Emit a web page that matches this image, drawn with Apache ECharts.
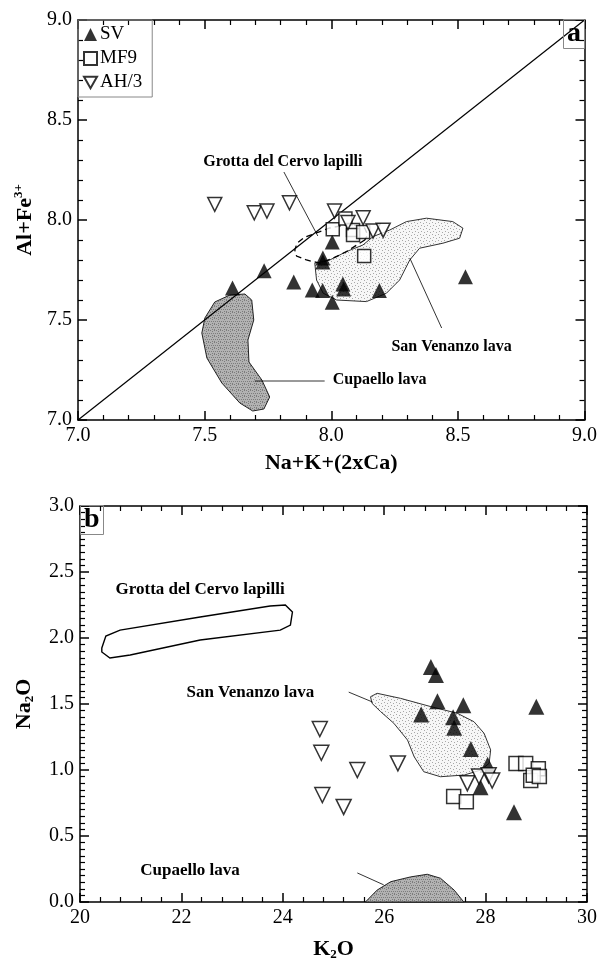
<!DOCTYPE html>
<html>
<head>
<meta charset="utf-8">
<script src="https://cdn.jsdelivr.net/npm/echarts@6/dist/echarts.min.js"></script>
<style>
  html, body { margin: 0; padding: 0; background: #fff; }
  #main { width: 600px; height: 962px; }
</style>
</head>
<body>
<div id="main"></div>
<script>
const serif = 'Liberation Serif'

// ---- panel a : Al+Fe3+ vs Na+K+(2xCa)
const svA = [[7.61, 7.66], [7.735, 7.746], [7.852, 7.69], [7.925, 7.65], [7.966, 7.647], [8.004, 7.589],
  [8.046, 7.68], [8.049, 7.655], [7.967, 7.81], [7.967, 7.79], [8.004, 7.89], [8.19, 7.647], [8.53, 7.716]]
const mf9A = [[8.006, 7.954], [8.056, 8.008], [8.086, 7.95], [8.086, 7.925], [8.126, 7.94], [8.13, 7.82]]
const ah3A = [[7.54, 8.078], [7.696, 8.036], [7.746, 8.045], [7.835, 8.086], [8.013, 8.045], [8.066, 7.987],
  [8.126, 8.011], [8.165, 7.945], [8.205, 7.949]]
const oneToOne = [[7, 7], [9, 9]]
const cupaelloA = [[7.501, 7.51], [7.54, 7.59], [7.6, 7.625], [7.659, 7.63], [7.686, 7.6], [7.694, 7.5],
  [7.671, 7.4], [7.675, 7.29], [7.726, 7.2], [7.757, 7.115], [7.734, 7.055], [7.69, 7.045], [7.639, 7.085],
  [7.568, 7.185], [7.509, 7.31], [7.489, 7.435]]
const venanzoA = [[7.935, 7.784], [7.942, 7.7], [7.968, 7.634], [8.021, 7.6], [8.139, 7.592], [8.218, 7.634],
  [8.27, 7.7], [8.31, 7.8], [8.349, 7.859], [8.441, 7.884], [8.507, 7.909], [8.52, 7.959], [8.48, 7.992],
  [8.376, 8.009], [8.297, 7.992], [8.231, 7.95], [8.165, 7.917], [8.125, 7.875], [8.06, 7.842], [7.994, 7.8]]
const cervoA = [[8.132, 7.9], [8.06, 7.842], [8.007, 7.809], [7.955, 7.784], [7.902, 7.8], [7.863, 7.82],
  [7.856, 7.85], [7.865, 7.884], [7.895, 7.914], [7.994, 7.96], [8.073, 7.98], [8.132, 7.96], [8.144, 7.925]]
const notesA = [
  {text: 'Grotta del Cervo lapilli', at: [7.809, 8.29], from: [7.813, 8.24], to: [7.947, 7.92]},
  {text: 'San Venanzo lava', at: [8.475, 7.365], from: [8.31, 7.81], to: [8.436, 7.46]},
  {text: 'Cupaello lava', at: [8.006, 7.2], from: [7.698, 7.195], to: [7.974, 7.195], align: 'left'}
]

// ---- panel b : Na2O vs K2O
const svB = [[26.92, 1.78], [27.02, 1.72], [27.05, 1.52], [27.56, 1.49], [26.73, 1.42], [27.36, 1.4],
  [27.38, 1.32], [27.71, 1.16], [28.04, 1.04], [27.9, 0.87], [28.56, 0.68], [29.0, 1.48]]
const mf9B = [[27.37, 0.8], [27.62, 0.76], [28.6, 1.05], [28.79, 1.05], [29.04, 1.01], [28.89, 0.92],
  [28.94, 0.96], [29.06, 0.95]]
const ah3B = [[24.73, 1.31], [24.76, 1.13], [24.78, 0.81], [25.2, 0.72], [25.47, 1.0], [26.27, 1.05],
  [27.64, 0.9], [27.87, 0.95], [28.06, 0.96], [28.13, 0.92]]
const venanzoB = [[25.73, 1.555], [25.86, 1.581], [26.32, 1.543], [26.92, 1.48], [27.44, 1.43], [27.77, 1.366],
  [27.97, 1.278], [28.1, 1.152], [28.07, 1.051], [27.91, 1.0], [27.58, 0.962], [27.11, 0.949], [26.78, 0.987],
  [26.59, 1.101], [26.46, 1.227], [26.19, 1.354], [25.93, 1.442], [25.76, 1.505]]
const cervoB = [[20.43, 1.924], [20.51, 2.015], [20.79, 2.06], [22.37, 2.159], [23.75, 2.242], [24.05, 2.25],
  [24.19, 2.197], [24.15, 2.098], [23.95, 2.06], [22.37, 1.985], [20.99, 1.871], [20.59, 1.848], [20.43, 1.894]]
const cupaelloB = [[25.63, 0], [25.86, 0.09], [26.13, 0.154], [26.52, 0.19], [26.85, 0.21], [27.11, 0.18],
  [27.38, 0.09], [27.57, 0]]
const notesB = [
  {text: 'Grotta del Cervo lapilli', at: [22.37, 2.364]},
  {text: 'San Venanzo lava', at: [23.36, 1.583], from: [25.3, 1.59], to: [25.77, 1.515]},
  {text: 'Cupaello lava', at: [22.17, 0.235], from: [25.47, 0.22], to: [25.99, 0.13]}
]

const invTriangle = 'path://M0,0 L12,0 L6,10.4 Z'

// axis index: 0 = panel a (bottom / left), 2 = panel b (bottom / left); 1 and 3 are the mirrored frames
const PA = 0
const PB = 2

// stipple textures for the field outlines
const stipple = (bg, dot, cells) => {
  const c = document.createElement('canvas')
  c.width = 6
  c.height = 6
  const ctx = c.getContext('2d')
  ctx.fillStyle = bg
  ctx.fillRect(0, 0, 6, 6)
  ctx.fillStyle = dot
  cells.forEach(p => ctx.fillRect(p[0], p[1], 1, 1))
  return {image: c, repeat: 'repeat'}
}
const lightDots = stipple('#f7f7f7', '#a8a8a8', [[0, 0], [3, 1], [1, 3], [4, 4]])
const darkDots = stipple('#b2b2b2', '#7c7c7c', [[0, 0], [2, 1], [4, 0], [1, 3], [3, 3], [5, 3], [2, 5], [4, 5]])

const makeAxis = (gridIndex, position, min, max, interval, minorSplit, showLabel) => ({
  gridIndex, position, min, max, interval, type: 'value',
  axisLine: {show: true, onZero: false, lineStyle: {color: '#000', width: 1.5}},
  axisTick: {show: true, inside: true, length: 9, lineStyle: {color: '#000', width: 1.5}},
  minorTick: {show: true, splitNumber: minorSplit, length: 5, lineStyle: {color: '#000', width: 1.2}},
  splitLine: {show: false},
  axisLabel: {
    show: showLabel, color: '#000', fontFamily: serif, fontSize: 20, margin: 6,
    formatter: v => (interval < 1 ? v.toFixed(1) : String(v))
  }
})

const nameRich = {
  t: {fontFamily: serif, fontWeight: 'bold', fontSize: 22, color: '#000'},
  sup: {fontFamily: serif, fontWeight: 'bold', fontSize: 13, color: '#000', verticalAlign: 'top', padding: [0, 0, 12, 0]},
  sub: {fontFamily: serif, fontWeight: 'bold', fontSize: 13, color: '#000', verticalAlign: 'bottom', padding: [10, 0, 0, 0]}
}

const polygonSeries = (axis, pts, style, z) => ({
  type: 'custom', xAxisIndex: axis, yAxisIndex: axis, silent: true, z,
  data: [pts[0]],
  renderItem: (params, api) => ({
    type: 'polygon',
    shape: {points: pts.map(p => api.coord(p))},
    style
  })
})

const noteSeries = (axis, notes, fontSize) => ({
  type: 'custom', xAxisIndex: axis, yAxisIndex: axis, silent: true, z: 6,
  data: notes.map(n => n.at),
  renderItem: (params, api) => {
    const n = notes[params.dataIndex]
    const children = []
    if (n.from) {
      const a = api.coord(n.from), b = api.coord(n.to)
      children.push({type: 'line', shape: {x1: a[0], y1: a[1], x2: b[0], y2: b[1]},
        style: {stroke: '#000', lineWidth: 0.8}})
    }
    const p = api.coord(n.at)
    children.push({type: 'text', x: p[0], y: p[1],
      style: {text: n.text, fill: '#000', font: `bold ${fontSize}px "${serif}"`,
        align: n.align || 'center', verticalAlign: 'middle'}})
    return {type: 'group', children}
  }
})

const scatter = (name, axis, data, symbol, size, filled) => ({
  name, type: 'scatter', xAxisIndex: axis, yAxisIndex: axis, data, symbol, symbolSize: size, z: 8,
  itemStyle: filled ? {color: '#000'} : {color: '#fff', borderColor: '#000', borderWidth: 1.5}
})

const chart = echarts.init(document.getElementById('main'))
chart.setOption({
  animation: false,
  backgroundColor: '#fff',
  title: [
    {text: 'a', right: 15, top: 20, padding: [0, 4, 1, 4], borderColor: '#888', borderWidth: 1,
      textStyle: {fontFamily: serif, fontWeight: 'bold', fontSize: 28, lineHeight: 27, color: '#000'}},
    {text: 'b', left: 80, top: 506, padding: [0, 4, 1, 4], borderColor: '#888', borderWidth: 1,
      textStyle: {fontFamily: serif, fontWeight: 'bold', fontSize: 28, lineHeight: 27, color: '#000'}}
  ],
  legend: {
    data: ['SV', 'MF9', 'AH/3'],
    orient: 'vertical', left: 78, top: 20,
    padding: [5, 10, 5, 5], itemGap: 5, itemWidth: 13, itemHeight: 13,
    borderColor: '#888', borderWidth: 1,
    textStyle: {fontFamily: serif, fontSize: 19, color: '#000', padding: [0, 0, 0, -2]}
  },
  grid: [
    {left: 78, right: 15, top: 20, bottom: 542},
    {left: 80, right: 12, top: 506, bottom: 60}
  ],
  xAxis: [
    Object.assign(makeAxis(0, 'bottom', 7, 9, 0.5, 5, true), {
      name: 'Na+K+(2xCa)', nameLocation: 'middle', nameGap: 32,
      nameTextStyle: {fontFamily: serif, fontWeight: 'bold', fontSize: 22, color: '#000'}
    }),
    makeAxis(0, 'top', 7, 9, 0.5, 5, false),
    Object.assign(makeAxis(1, 'bottom', 20, 30, 2, 5, true), {
      name: '{t|K}{sub|2}{t|O}', nameLocation: 'middle', nameGap: 36,
      nameTextStyle: {rich: nameRich}
    }),
    makeAxis(1, 'top', 20, 30, 2, 5, false)
  ],
  yAxis: [
    Object.assign(makeAxis(0, 'left', 7, 9, 0.5, 5, true), {
      name: '{t|Al+Fe}{sup|3+}', nameLocation: 'middle', nameGap: 40,
      nameTextStyle: {rich: nameRich}
    }),
    makeAxis(0, 'right', 7, 9, 0.5, 5, false),
    Object.assign(makeAxis(1, 'left', 0, 3, 0.5, 10, true), {
      name: '{t|Na}{sub|2}{t|O}', nameLocation: 'middle', nameGap: 44,
      nameTextStyle: {rich: nameRich}
    }),
    makeAxis(1, 'right', 0, 3, 0.5, 10, false)
  ],
  series: [
    polygonSeries(PA, cupaelloA, {fill: darkDots, stroke: '#222', lineWidth: 1}, 1),
    polygonSeries(PA, venanzoA, {fill: lightDots, stroke: '#333', lineWidth: 1}, 1),
    polygonSeries(PA, cervoA, {fill: 'none', stroke: '#000', lineWidth: 1.3, lineDash: [6, 4]}, 2),
    {
      type: 'line', xAxisIndex: PA, yAxisIndex: PA, data: oneToOne, symbol: 'none', silent: true, z: 3,
      lineStyle: {color: '#000', width: 1.2}
    },
    noteSeries(PA, notesA, 16),
    scatter('SV', PA, svA, 'triangle', 15, true),
    scatter('MF9', PA, mf9A, 'rect', 13, false),
    scatter('AH/3', PA, ah3A, invTriangle, 14, false),

    polygonSeries(PB, cupaelloB, {fill: darkDots, stroke: '#222', lineWidth: 1}, 1),
    polygonSeries(PB, venanzoB, {fill: lightDots, stroke: '#333', lineWidth: 1}, 1),
    polygonSeries(PB, cervoB, {fill: 'none', stroke: '#000', lineWidth: 1.4}, 2),
    noteSeries(PB, notesB, 17),
    scatter('SV', PB, svB, 'triangle', 16, true),
    scatter('MF9', PB, mf9B, 'rect', 14, false),
    scatter('AH/3', PB, ah3B, invTriangle, 15, false)
  ]
})
</script>
</body>
</html>
